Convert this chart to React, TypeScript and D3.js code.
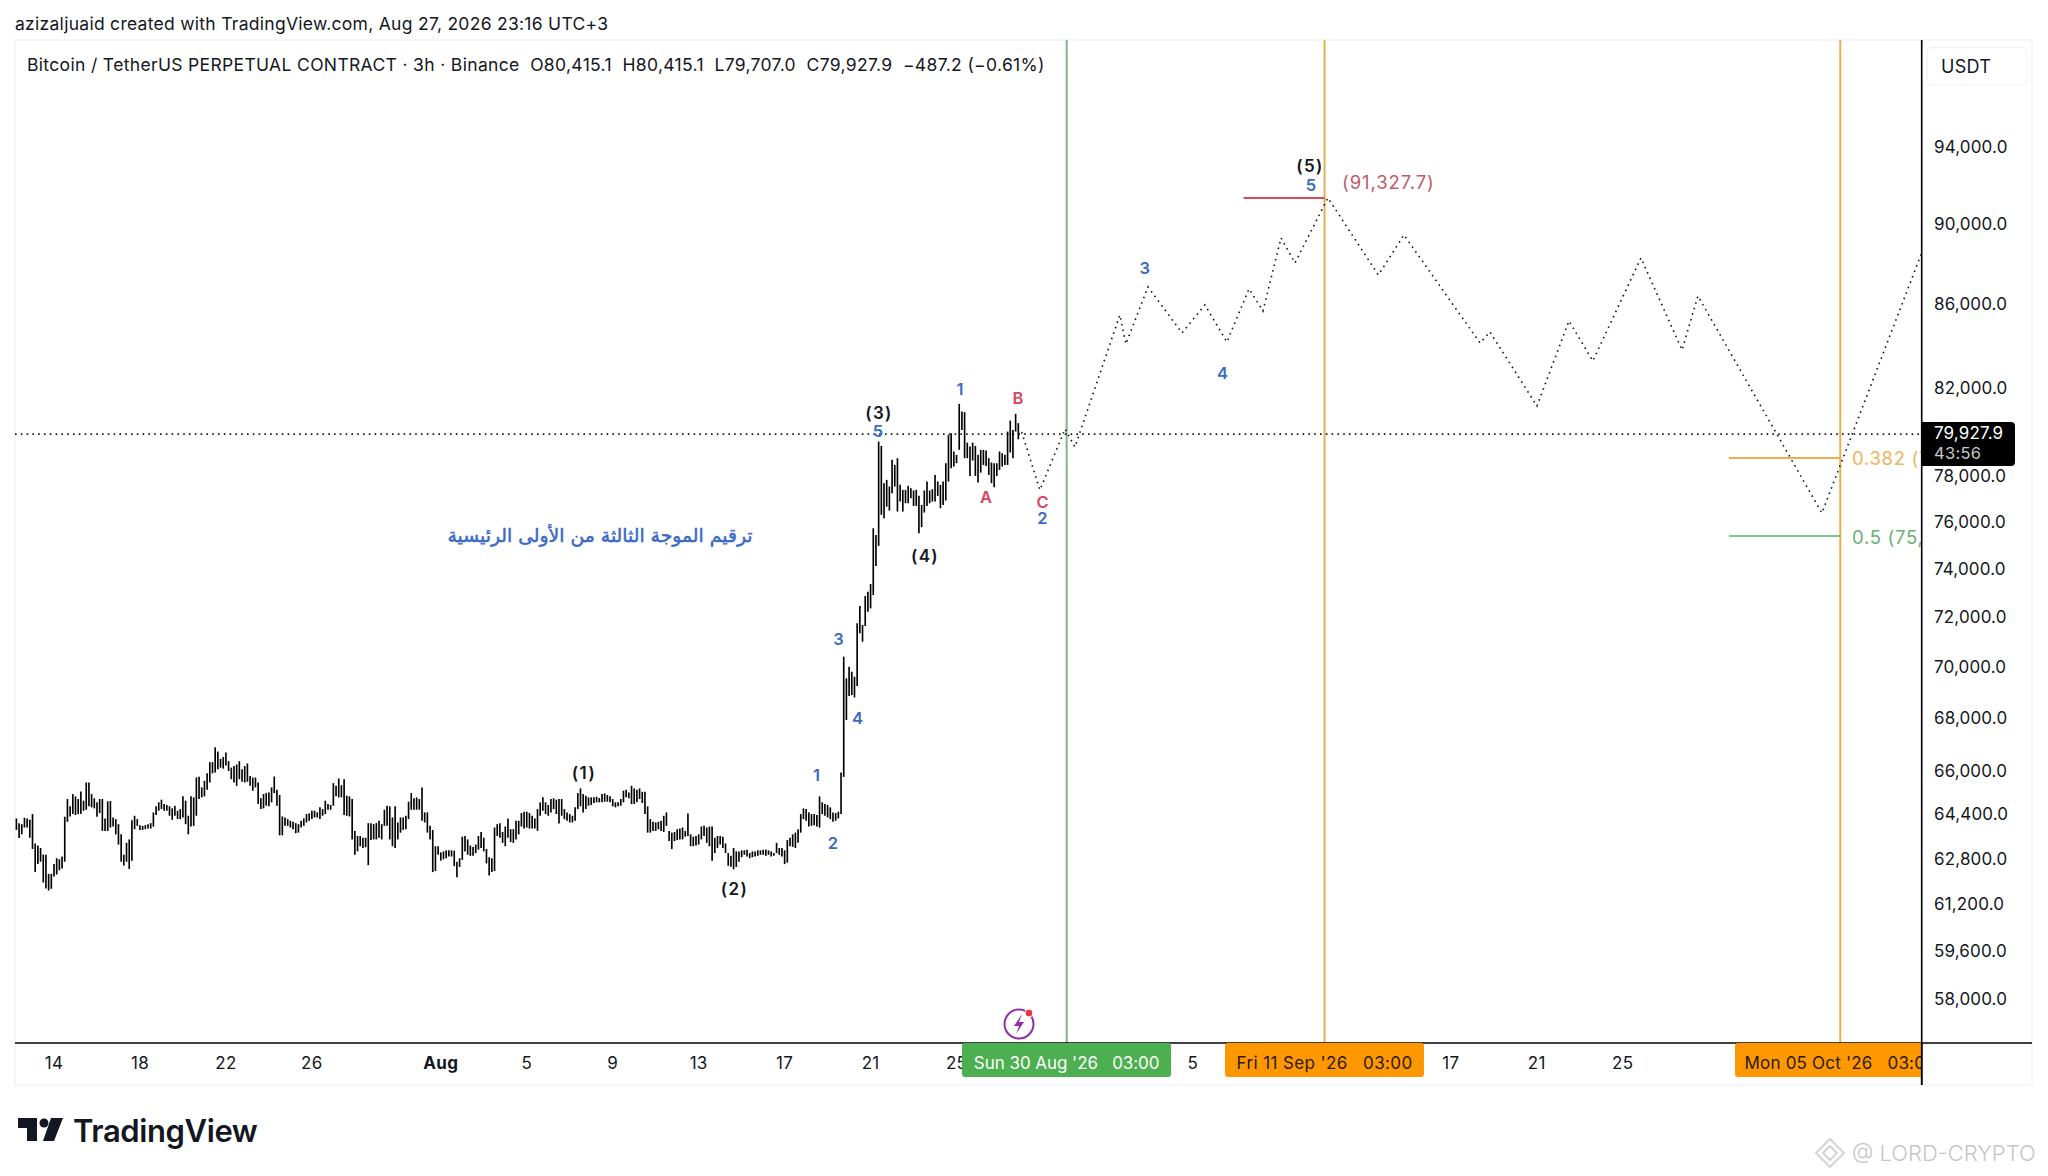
import React from "react";
import * as d3 from "d3";

// ---------- data: 3h bars (high / low)
const highsJulAug = [64250,64078,64041,64274,64250,64201,64409,63343,63270,63184,62951,62939,62265,62265,62608,62816,62780,62878,64311,64960,64691,65144,65058,64960,65242,64899,65573,65573,65144,64985,64838,64960,64960,64250,64874,64887,64286,64225,64041,63674,62939,63368,63490,64188,64347,64225,64005,63980,64005,64041,64078,64470,64691,64838,64936,64776,64740,64691,64617,64715,64531,64592,65058,64899,64347,65058,65021,65756,65781,65389,65634,65915,66332,66332,66895,66736,66455,66528,66700,66369,66124,66185,66246,66369,66063,66185,66283,65818,65756,65756,65573,64985,65144,65180,65205,65389,65793,65303,65107,64323,64286,64225,64164,64127,64078,64041,64164,64250,64409,64433,64531,64531,64470,64654,64592,64899,64776,64740,65548,65450,65720,65475,65695,65083,65058,64960,63796,63613,63613,63551,63551,64078,64078,64041,64078,64164,64041,64568,64715,64691,64286,64691,64102,64286,64286,64347,64862,65180,64985,65021,64960,65389,64470,64470,63980,63833,63245,63245,63025,63061,63098,63098,63098,63086,62694,62816,63588,63613,63490,63270,63221,63306,63613,63760,63551,63147,62853,62816,63919,64041,64078,63760,63956,64250,63858,63858,64164];
const lowsJulAug = [63833,63539,63674,63919,63919,63551,63147,62326,62608,62694,61959,61751,61677,61738,62167,62240,62388,62449,62694,64127,64323,64409,64372,64409,64409,64531,64568,64691,64654,64617,64311,64446,63796,63796,63796,63919,63956,63674,63306,62694,62559,62694,62437,62731,63858,63980,63833,63833,63858,63882,63882,63956,64372,64531,64592,64531,64531,64347,64201,64347,64225,64225,64286,64041,63674,63956,63980,64347,64960,65021,65058,65303,65573,65915,65940,66063,66124,66087,66210,66001,65695,65573,65450,65695,65597,65573,65597,65450,65266,65389,64776,64592,64617,64715,64691,64838,65180,64715,63637,63637,63980,63980,63919,63858,63711,63735,63919,63980,64102,64164,64225,64286,64286,64225,64347,64409,64568,64568,64715,65058,65021,65021,64372,64347,64323,63490,62939,63061,63245,63184,63208,62571,63466,63490,63490,63551,63490,63980,63980,63490,63245,63184,63490,63735,63833,63858,64225,64568,64568,64568,64568,64164,64102,63735,63490,62326,62363,62939,62731,62780,62816,62878,62878,62535,62143,62510,62755,63061,62939,62902,62902,63000,63122,63184,63061,62632,62204,62326,62363,63613,63551,63368,63245,63551,63392,63368,63490];
const highsAugMid = [64164,64446,64495,64495,64446,64347,64250,64592,64838,65021,64838,64740,64960,64985,64936,64960,64960,64592,64470,64409,64347,64654,65180,65352,65144,65083,65021,65021,65021,65046,64997,65144,65168,65107,65058,64960,64838,64838,64960,65266,65303,65205,65450,65352,65303,65352,65230,65230,64691,64225,64127,64102,64127,64164,64347,64470,63796,63735,63760,63858,63882,63919,63796,64433,63674,63588,63613,63674,63956,63980,63919,63956,63956,63551,63613,63613,63588,63343,63000,62902,63184,63061,63061,63098,63098,63122,63000,63061,63061,63098,63098,63122,63122,63098,63061,63000,63368,63184,63184,63098,63466,63551,63674,63735,63858,64409,64617,64592,64470,64409,64409,64372,65058,64838,64776,64740,64654,64470,64446,64495];
const lowsAugMid = [63674,63956,63882,63919,63882,63882,63882,63796,64347,64531,64409,64347,64470,64592,64409,64066,64347,64225,64164,64102,64102,64164,64592,64691,64470,64592,64715,64740,64813,64838,64838,64838,64862,64862,64838,64691,64654,64691,64715,64838,65021,64985,64776,64776,64838,64960,64813,64409,63735,63735,63796,63796,63858,63796,63760,63980,63429,63147,63429,63466,63490,63490,63588,63613,63245,63245,63270,63306,63490,63613,63368,63245,62731,63000,63184,63306,63184,63000,62547,62510,62424,62510,62694,62853,62939,62878,62816,62853,62878,62902,62939,62939,62902,62939,62878,62902,63000,62939,62878,62608,62657,63245,63221,63184,63368,63735,64225,64164,63956,63980,64005,63956,63919,64409,64347,64286,64225,64127,64164,64250];
const highsRally = [65940,70419,69558,70019,69820,69620,71762,72467,71694,72880,73060,73378,75735,75447,79547,79353,77694,77840,77547,78727,78503,78802,77620,77400,77400,77577,77474,77372,77400,77137,76743,77372,77767,77372,77430,78057,77767,77620,77767,78578,79845,79923,79100,78950,81266,80915,80885,79500,79323,79500,79353,78950,79174,79174,79144,78802,78608,78578,78578,79100,79025,78950,80000,80501,80076,80808,80382];
const lowsRally = [64409,65780,67932,68863,68902,68811,69256,71355,71017,71653,72236,72371,72921,74130,74979,76311,76167,76671,76498,77255,77547,76455,76888,76455,76815,76815,77035,76700,76700,75519,75778,76412,76700,76815,76888,76888,77137,76599,76743,76932,77767,78355,78430,78578,79174,80076,78802,78802,78013,78697,78013,77723,78160,78503,78458,78057,77694,77518,78013,78280,78430,78503,78503,79055,78802,80000,79650];
const highs = [...highsJulAug, ...highsAugMid, ...highsRally];
const lows = [...lowsJulAug, ...lowsAugMid, ...lowsRally];

// projected path: days after 14 Jul, price
const pathDays = [45.03,45.88,47.05,47.51,49.60,49.88,50.91,52.49,53.56,54.58,55.61,56.26,57.10,57.75,59.28,61.63,62.82,66.36,66.82,69.01,70.50,71.61,73.85,75.76,76.50,82.27,86.93];
const pathPrices = [79980,77395,80117,79303,85465,84072,86833,84598,85951,84167,86734,85659,89278,88022,91327.7,87425,89431,84120,84646,81169,85175,83265,88272,83786,86390,76390,88573];

const priceTicks = [94000,90000,86000,82000,78000,76000,74000,72000,70000,68000,66000,64400,62800,61200,59600,58000];
const dayTickOffsets = [0,4,8,12,18,22,26,30,34,38,42,53,57,61,65,69,73];
const dayTickLabels = ["14","18","22","26","Aug","5","9","13","17","21","25","5","9","13","17","21","25"];

const lastPrice = 79927.9;
const peakPrice = 91327.7;
const fib382 = 78808;
const fib500 = 75405;
const vlineDays = [47.125, 59.125, 83.125];
const vlineLabels = ["Sun 30 Aug '26   03:00", "Fri 11 Sep '26   03:00", "Mon 05 Oct '26   03:00"];

// ---------- layout
const W = 2048, H = 1176;
const L = 15, T = 40, R = 1921.7, B = 1043, FR = 2032, FB = 1085;
const FONT = "Inter, 'Noto Sans', sans-serif";
const BLACK = "#131722", BLUE = "#3a69c6", RED = "#d8455e";

const x = d3.scaleLinear().domain([0, 73]).range([54, 1622.7]);
const y = d3.scaleLog().domain([58000, 94000]).range([999, 147]);
const barDay = (i: number) => -1.75 + i / 8;

const line = d3.line<number>().x((d) => x(d)).y((_, i) => y(pathPrices[i]));

const waveLabels: [string, number, number, string][] = [
  ["(1)", 584, 772.5, BLACK], ["(2)", 734.5, 888.5, BLACK], ["(3)", 879, 412.5, BLACK], ["(4)", 925, 555.5, BLACK], ["(5)", 1310, 165.5, BLACK],
  ["1", 816.5, 774.5, BLUE], ["2", 833, 842.5, BLUE], ["3", 838.5, 638.5, BLUE], ["4", 857.5, 717.5, BLUE], ["5", 878, 431, BLUE],
  ["1", 960, 388.5, BLUE], ["2", 1042.5, 517.5, BLUE], ["3", 1144.7, 267.5, BLUE], ["4", 1222.5, 372.5, BLUE], ["5", 1311, 184.5, BLUE],
  ["A", 986, 496.5, RED], ["B", 1018, 397.5, RED], ["C", 1042.5, 501.5, RED],
];
const boxes: [number, number, string, string, number][] = [
  [962, 1171, "#4caf50", "#ffffff", -0.05], [1225, 1424, "#ff9800", "#2a1a10", 0.38], [1735, 1960, "#ff9800", "#2a1a10", 0.2],
];

export default function App() {
  return (
    <svg width={W} height={H} viewBox={`0 0 ${W} ${H}`} style={{ position: "absolute", left: 0, top: 0, display: "block", background: "#fff" }} fontFamily={FONT}>
      <defs>
        <clipPath id="plot"><rect x={L} y={T} width={R - L} height={B - T} /></clipPath>
        <clipPath id="time"><rect x={L} y={B} width={R - L} height={FB - B} /></clipPath>
      </defs>
      <text x={15} y={23} dominantBaseline="central" fontSize={17.5} letterSpacing={0.28} fill={BLACK}>azizaljuaid created with TradingView.com, Aug 27, 2026 23:16 UTC+3</text>
      <rect x={L} y={T} width={FR - L} height={FB - T} fill="none" stroke="#f0f3fa" strokeWidth={1.5} />
      <text x={27} y={64} dominantBaseline="central" fontSize={17.5} letterSpacing={0.34} fill={BLACK} xmlSpace="preserve">Bitcoin / TetherUS PERPETUAL CONTRACT · 3h · Binance  O80,415.1  H80,415.1  L79,707.0  C79,927.9  −487.2 (−0.61%)</text>

      <g clipPath="url(#plot)">
        {vlineDays.map((d, i) => (
          <line key={d} x1={x(d)} x2={x(d)} y1={T} y2={B} stroke={i === 0 ? "#7fb58a" : "#e9ae4e"} strokeWidth={2} />
        ))}
        <line x1={L} x2={R} y1={y(lastPrice) + 1} y2={y(lastPrice) + 1} stroke={BLACK} strokeWidth={1.6} strokeDasharray="1.6 4.2" />
        <g stroke="#000" strokeWidth={1.65}>
          {highs.map((h, i) => (
            <line key={i} x1={x(barDay(i))} x2={x(barDay(i))} y1={y(h)} y2={y(lows[i])} />
          ))}
        </g>
        <path d={line(pathDays) ?? ""} fill="none" stroke={BLACK} strokeWidth={1.6} strokeDasharray="1.6 4.2" />
        <line x1={1243.5} x2={x(vlineDays[1])} y1={y(peakPrice)} y2={y(peakPrice)} stroke="#d64a5c" strokeWidth={2} />
        <line x1={1729} x2={x(vlineDays[2])} y1={y(fib382)} y2={y(fib382)} stroke="#e9ae4e" strokeWidth={2} />
        <line x1={1729} x2={x(vlineDays[2])} y1={y(fib500)} y2={y(fib500)} stroke="#5cb063" strokeWidth={1.5} />
        <text x={1342} y={181.5} dominantBaseline="central" fontSize={18.5} letterSpacing={0.9} fill="#c05a68">(91,327.7)</text>
        <text x={1852} y={458} dominantBaseline="central" fontSize={18.5} letterSpacing={0.7} fill="#eeb35c">0.382 (78,808.0)</text>
        <text x={1852} y={536.5} dominantBaseline="central" fontSize={18.5} letterSpacing={0.7} fill="#6bb074">0.5 (75,405.0)</text>
        {waveLabels.map(([t, lx, ly, c], i) => (
          <text key={i} x={lx} y={ly} textAnchor="middle" dominantBaseline="central" fontSize={t.length > 1 ? 17 : 16.5} letterSpacing={t.length > 1 ? 1.4 : 0} fontWeight={600} fill={c}>{t}</text>
        ))}
        <text x={600} y={535} textAnchor="middle" dominantBaseline="central" fontSize={18.8} fontWeight={400} fill={BLUE} stroke={BLUE} strokeWidth={0.5} fontFamily="'DejaVu Sans', sans-serif" direction="rtl">ترقيم الموجة الثالثة من الأولى الرئيسية</text>
        <circle cx={1019} cy={1024} r={14.5} fill="#fff" stroke="#8e2ea8" strokeWidth={2} />
        <path d="M1022 1014 L1014 1026 L1019 1026 L1016 1034 L1024 1022 L1019 1022 Z" fill="#8e2ea8" />
        <circle cx={1029} cy={1013} r={4} fill="#e53945" stroke="#fff" strokeWidth={1} />
      </g>

      <line x1={L} x2={FR} y1={B} y2={B} stroke="#000" strokeWidth={1.6} />
      <line x1={R} x2={R} y1={T} y2={FB} stroke="#000" strokeWidth={1.6} />

      {priceTicks.map((p) => (
        <text key={p} x={1934} y={y(p)} dominantBaseline="central" fontSize={17} letterSpacing={0.15} fill={BLACK}>{d3.format(",.1f")(p)}</text>
      ))}
      <path d={`M${R} 422 H2011 a4 4 0 0 1 4 4 V462 a4 4 0 0 1 -4 4 H${R} Z`} fill="#000" />
      <text x={1934} y={433} dominantBaseline="central" fontSize={17} letterSpacing={0.15} fill="#fff">{d3.format(",.1f")(lastPrice)}</text>
      <text x={1934} y={453} dominantBaseline="central" fontSize={16.5} letterSpacing={0.3} fill="#c8c8c8">43:56</text>
      <rect x={1927} y={47} width={100} height={38} rx={6} fill="#fff" stroke="#f3f5fa" strokeWidth={1.5} />
      <text x={1941} y={66} dominantBaseline="central" fontSize={18} letterSpacing={0.3} fill={BLACK}>USDT</text>

      {dayTickOffsets.map((d, i) => (
        <text key={i} x={x(d)} y={1063} textAnchor="middle" dominantBaseline="central" fontSize={17} letterSpacing={0.3} fontWeight={dayTickLabels[i] === "Aug" ? 700 : 400} fill={BLACK}>{dayTickLabels[i]}</text>
      ))}
      <g clipPath="url(#time)">
        {boxes.map(([a, b, c, tc, ls], i) => (
          <g key={i}>
            <rect x={a} y={1043} width={b - a} height={34} rx={3} fill={c} />
            <text x={x(vlineDays[i])} y={1063} textAnchor="middle" dominantBaseline="central" fontSize={17} letterSpacing={ls} fill={tc} xmlSpace="preserve">{vlineLabels[i]}</text>
          </g>
        ))}
      </g>
      <line x1={R} x2={R} y1={B} y2={FB} stroke="#000" strokeWidth={1.6} />

      <path d="M18 1118 H37 V1141 H27 V1128 H18 Z M51 1118 H63 L54 1141 H43 Z" fill="#131722" />
      <circle cx={44} cy={1123} r={4.5} fill="#131722" />
      <text x={73} y={1130} dominantBaseline="central" fontSize={31} fontWeight={600} fill="#131722" letterSpacing={-0.4}>TradingView</text>

      <path d="M1830 1139 l14 14 -14 14 -14 -14 Z M1830 1146 l7 7 -7 7 -7 -7 Z" fill="none" stroke="#d4d4d4" strokeWidth={2} />
      <text x={1852} y={1153} dominantBaseline="central" fontSize={22} fontWeight={300} fill="#c6c6c6">@ LORD-CRYPTO</text>
    </svg>
  );
}
